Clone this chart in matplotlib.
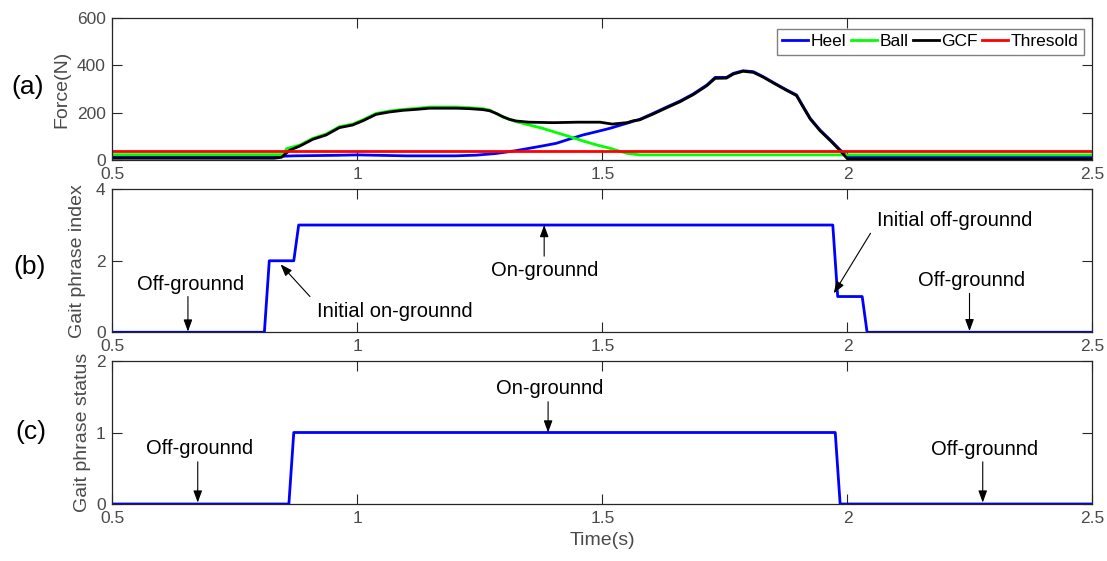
import numpy as np
import matplotlib
matplotlib.use("Agg")
from matplotlib import pyplot as plt

plt.rcParams['font.family'] = ['Liberation Sans', 'DejaVu Sans']

# ---- force signals (N) ----
t_heel = [0.5, 0.83, 0.87, 0.95, 1.0, 1.1, 1.2, 1.243, 1.283, 1.324, 1.351, 1.378, 1.406, 1.433,
          1.46, 1.488, 1.515, 1.549, 1.576, 1.603, 1.63, 1.658, 1.685, 1.713, 1.73, 1.753, 1.767,
          1.787, 1.808, 1.828, 1.849, 1.876, 1.896, 1.91, 1.924, 1.944, 1.965, 1.985, 2.0, 2.5]
heel = [15, 15, 18, 20, 22, 18, 18, 21, 28, 40, 50, 60, 71, 89,
        106, 120, 134, 155, 172, 197, 223, 249, 279, 317, 349, 349, 366,
        377, 373, 352, 327, 296, 275, 225, 176, 127, 85, 43, 14, 14]

t_ball = [0.5, 0.85, 0.855, 0.883, 0.909, 0.936, 0.963, 0.99, 1.011, 1.038, 1.065, 1.093, 1.12,
          1.147, 1.174, 1.202, 1.229, 1.256, 1.27, 1.283, 1.297, 1.324, 1.351, 1.378, 1.406,
          1.433, 1.46, 1.488, 1.515, 1.549, 1.576, 2.5]
ball = [23, 23, 48, 64, 92, 110, 141, 152, 170, 197, 207, 214, 218,
        224, 224, 224, 221, 217, 211, 197, 181, 162, 148, 134, 116,
        99, 81, 64, 50, 29, 22, 22]

t_gcf = [0.5, 0.83, 0.845, 0.862, 0.883, 0.909, 0.936, 0.963, 0.99, 1.011, 1.038, 1.065, 1.093,
         1.12, 1.147, 1.174, 1.202, 1.229, 1.256, 1.27, 1.283, 1.297, 1.31, 1.324, 1.35, 1.4,
         1.45, 1.495, 1.52, 1.55, 1.563, 1.576, 1.603, 1.63, 1.658, 1.685, 1.713, 1.73, 1.753,
         1.767, 1.787, 1.808, 1.828, 1.849, 1.876, 1.896, 1.91, 1.924, 1.944, 1.965, 1.985,
         2.0, 2.5]
gcf = [8, 8, 12, 42, 60, 88, 106, 137, 148, 166, 193, 203, 210,
       214, 219, 219, 219, 217, 213, 208, 197, 183, 172, 165, 160, 158,
       160, 160, 152, 158, 166, 170, 194, 220, 246, 276, 314, 345, 346,
       363, 375, 370, 350, 325, 294, 272, 222, 173, 124, 82, 40,
       5, 5]

threshold = 40

# ---- gait phase index and status ----
t_index = [0.5, 0.81, 0.82, 0.87, 0.88, 1.97, 1.98, 2.03, 2.04, 2.5]
phase_index = [0, 0, 2, 2, 3, 3, 1, 1, 0, 0]

t_status = [0.5, 0.86, 0.87, 1.975, 1.985, 2.5]
phase_status = [0, 0, 1, 1, 0, 0]

xticks = [0.5, 1, 1.5, 2, 2.5]
xticklabels = ['0.5', '1', '1.5', '2', '2.5']

axcol = '#262626'
labcol = '#4a4a4a'

fig = plt.figure(figsize=(11.07, 5.61), dpi=100)
ax_a = fig.add_axes([0.1016, 0.7146, 0.8853, 0.2535])
ax_b = fig.add_axes([0.1016, 0.4077, 0.8853, 0.2549])
ax_c = fig.add_axes([0.1016, 0.1016, 0.8853, 0.2549])


def style(ax, yticks):
    ax.set_xlim(0.5, 2.5)
    ax.set_xticks(xticks)
    ax.set_xticklabels(xticklabels)
    ax.set_yticks(yticks)
    ax.set_yticklabels([str(v) for v in yticks])
    ax.set_ylim(yticks[0], yticks[-1])
    ax.tick_params(direction='in', length=7, width=0.8, top=True, right=True,
                   labelsize=12.5, colors=axcol, labelcolor=labcol, pad=5)
    for s in ax.spines.values():
        s.set_color(axcol)
        s.set_linewidth(0.9)


# (a) forces
ax_a.plot(t_heel, heel, color=(0, 0, 1), lw=2, label='Heel')
ax_a.plot(t_ball, ball, color=(0, 1, 0), lw=2, label='Ball')
ax_a.plot(t_gcf, gcf, color='black', lw=2, label='GCF')
ax_a.axhline(threshold, color=(1, 0, 0), lw=2, label='Thresold')
style(ax_a, [0, 200, 400, 600])
ax_a.set_ylabel('Force(N)', fontsize=14, color=labcol)
ax_a.yaxis.set_label_coords(-0.043, 0.5)
leg = ax_a.legend(loc='upper right', bbox_to_anchor=(0.9913, 0.922), ncol=4, fontsize=12.5,
                  handlelength=1.5, handletextpad=0.15, columnspacing=0.25, borderpad=0.3,
                  borderaxespad=0, fancybox=False, framealpha=1, edgecolor='#808080')
leg.get_frame().set_linewidth(1.0)

# (b) phase index
ax_b.plot(t_index, phase_index, color=(0, 0, 1), lw=2)
style(ax_b, [0, 2, 4])
ax_b.set_ylabel('Gait phrase index', fontsize=14, color=labcol)
ax_b.yaxis.set_label_coords(-0.027, 0.5)

# (c) phase status
ax_c.plot(t_status, phase_status, color=(0, 0, 1), lw=2)
style(ax_c, [0, 1, 2])
ax_c.set_ylabel('Gait phrase status', fontsize=14, color=labcol)
ax_c.yaxis.set_label_coords(-0.022, 0.5)
ax_c.set_xlabel('Time(s)', fontsize=14, color=labcol, labelpad=4)

arrow = dict(arrowstyle='-|>,head_length=0.6,head_width=0.22', color='black', lw=0.8,
             mutation_scale=12, shrinkA=0, shrinkB=0)


def note(ax, text, txy, tail, head):
    ax.text(txy[0], txy[1], text, fontsize=14.5, ha='center', va='center', color='black')
    ax.annotate('', xy=head, xytext=tail, arrowprops=arrow)


note(ax_b, 'Off-grounnd', (0.659, 1.35), (0.654, 1.0), (0.654, 0.02))
note(ax_b, 'Initial on-grounnd', (1.077, 0.58), (0.903, 1.0), (0.843, 1.9))
note(ax_b, 'On-grounnd', (1.382, 1.74), (1.381, 2.13), (1.381, 3.0))
note(ax_b, 'Initial off-grounnd', (2.219, 3.12), (2.047, 2.77), (1.972, 1.09))
note(ax_b, 'Off-grounnd', (2.253, 1.44), (2.249, 1.09), (2.249, 0.03))

note(ax_c, 'On-grounnd', (1.392, 1.62), (1.389, 1.43), (1.389, 1.0))
note(ax_c, 'Off-grounnd', (0.677, 0.77), (0.674, 0.59), (0.674, 0.02))
note(ax_c, 'Off-grounnd', (2.279, 0.76), (2.276, 0.59), (2.276, 0.02))

fig.text(0.025, 0.845, '(a)', fontsize=19, ha='center', va='center')
fig.text(0.027, 0.524, '(b)', fontsize=19, ha='center', va='center')
fig.text(0.028, 0.2305, '(c)', fontsize=19, ha='center', va='center')

fig.savefig('out.png', dpi=100)
